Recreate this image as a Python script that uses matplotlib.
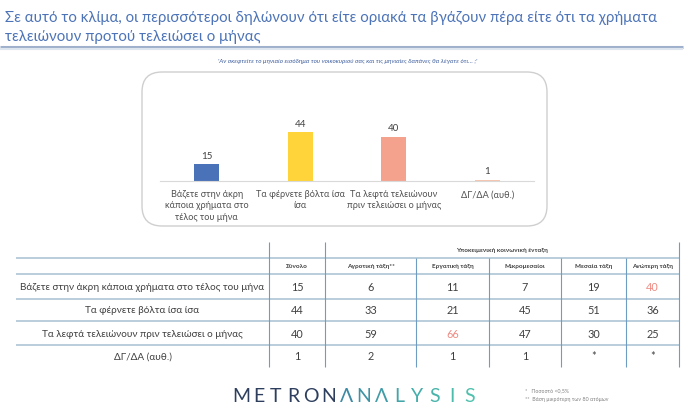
import matplotlib
matplotlib.use("Agg")
import matplotlib.pyplot as plt
from matplotlib.patches import FancyBboxPatch

plt.rcParams['font.family'] = ['Lato', 'DejaVu Sans']

# ---------------- data ----------------
title_lines = ["Σε αυτό το κλίμα, οι περισσότεροι δηλώνουν ότι είτε οριακά τα βγάζουν πέρα είτε ότι τα χρήματα",
               "τελειώνουν προτού τελειώσει ο μήνας"]
question = "'Αν σκεφτείτε το μηνιαίο εισόδημα του νοικοκυριού σας και τις μηνιαίες δαπάνες θα λέγατε ότι… ;'"

bar_categories = ["Βάζετε στην άκρη\nκάποια χρήματα στο\nτέλος του μήνα",
                  "Τα φέρνετε βόλτα ίσα\nίσα",
                  "Τα λεφτά τελειώνουν\nπριν τελειώσει ο μήνας",
                  "ΔΓ/ΔΑ (αυθ.)"]
bar_values = [15, 44, 40, 1]
bar_colors = ["#4a72b8", "#ffd43a", "#f4a28e", "#f6c4ae"]

group_header = "Υποκειμενική κοινωνική ένταξη"
table_columns = ["Σύνολο", "Αγροτική τάξη**", "Εργατική τάξη", "Μικρομεσαίοι", "Μεσαία τάξη", "Ανώτερη τάξη"]
table_rows = ["Βάζετε στην άκρη κάποια χρήματα στο τέλος του μήνα",
              "Τα φέρνετε βόλτα ίσα ίσα",
              "Τα λεφτά τελειώνουν πριν τελειώσει ο μήνας",
              "ΔΓ/ΔΑ (αυθ.)"]
col_synolo = ["15", "44", "40", "1"]
col_agrotiki = ["6", "33", "59", "2"]
col_ergatiki = ["11", "21", "66", "1"]
col_mikromesaioi = ["7", "45", "47", "1"]
col_mesaia = ["19", "51", "30", "*"]
col_anoteri = ["40", "36", "25", "*"]
highlighted = [(0, 5), (2, 2)]  # (row, column) shown in red

footnotes = ["*   Ποσοστό <0,5%", "**  Βάση μικρότερη των 80 ατόμων"]
logo_dark = "METRON"
logo_light = "ΛNΛLYSIS"

# ---------------- figure ----------------
W, H = 696, 414
fig = plt.figure(figsize=(W / 100, H / 100), dpi=100)
fig.patch.set_facecolor("white")

ov = fig.add_axes([0, 0, 1, 1])
ov.set_xlim(0, W)
ov.set_ylim(H, 0)
ov.axis("off")
ov.patch.set_alpha(0)

# title
title_color = "#4d74b8"
ov.text(5, 18, title_lines[0], fontsize=10.8, color=title_color, va="center", ha="left")
ov.text(5, 37, title_lines[1], fontsize=10.8, color=title_color, va="center", ha="left")
ov.plot([0, 683], [48, 48], color="#9fb0cc", lw=2.2, solid_capstyle="butt")
ov.plot([0, 683], [50.3, 50.3], color="#dfe5ef", lw=1.5, solid_capstyle="butt")

# question
ov.text(348, 62, question, fontsize=4.6, style="italic", color="#3d5d9e", ha="center", va="center")

# rounded box
box = FancyBboxPatch((142, 73), 405, 154, boxstyle="round,pad=0,rounding_size=20",
                     fc="none", ec="#cfcfcf", lw=1.0, transform=ov.transData)
ov.add_patch(box)

# bar chart
px_per_unit = 1.11
ax_h = 60
ax = fig.add_axes([160 / W, (H - 182) / H, 374 / W, ax_h / H])
ax.patch.set_alpha(0)
bars = ax.bar(range(len(bar_values)), bar_values, width=0.27, color=bar_colors)
ax.set_xlim(-0.5, len(bar_values) - 0.5)
ax.set_ylim(0, ax_h / px_per_unit)
ax.bar_label(bars, labels=[str(v) for v in bar_values], padding=3.2, fontsize=7.0, color="#404040")
ax.set_xticks(range(len(bar_values)))
ax.set_xticklabels(bar_categories, fontsize=6.6, color="#505050", linespacing=1.3)
ax.tick_params(axis="x", length=0, pad=6)
ax.set_yticks([])
for s in ["top", "left", "right"]:
    ax.spines[s].set_visible(False)
ax.spines["bottom"].set_color("#d9d9d9")
ax.spines["bottom"].set_linewidth(0.8)

# table
table_cols = [col_synolo, col_agrotiki, col_ergatiki, col_mikromesaioi, col_mesaia, col_anoteri]
x_edges = [16, 269, 325, 416, 489, 561, 626, 679]
h_lines = [259, 275, 300, 322, 346]
row_centers = [288, 311, 335, 357]
table_bottom = 368
hcol = "#b9cddc"
vcol = "#6e9cc2"
for y in h_lines:
    ov.plot([x_edges[0], x_edges[-1]], [y, y], color=hcol, lw=1.4, solid_capstyle="butt")
for i, x in enumerate(x_edges[1:]):
    top = 243 if x in (269, 325, 679) else 259
    ov.plot([x, x], [top, table_bottom], color=vcol, lw=0.8, solid_capstyle="butt")

ov.text((x_edges[2] + x_edges[-1]) / 2, 251, group_header, fontsize=4.6, fontweight="bold",
        color="#404040", ha="center", va="center")
for j, c in enumerate(table_columns):
    cx = (x_edges[j + 1] + x_edges[j + 2]) / 2
    ov.text(cx, 267, c, fontsize=4.6, fontweight="bold", color="#404040", ha="center", va="center")
for i, r in enumerate(table_rows):
    ov.text((x_edges[0] + x_edges[1]) / 2, row_centers[i], r, fontsize=7.2, color="#404040",
            ha="center", va="center")
    for j, col in enumerate(table_cols):
        cx = (x_edges[j + 1] + x_edges[j + 2]) / 2
        color = "#ee8a82" if (i, j) in highlighted else "#404040"
        ov.text(cx, row_centers[i], col[i], fontsize=7.8, color=color, ha="center", va="center")

# logo
logo = logo_dark + logo_light
light_cols = ["#3c8aa3", "#3e93a5", "#409ca7", "#42a5a8", "#45adaa", "#48b4ab", "#4bbbac", "#4fc1ad"]
step = 17.6
for k, ch in enumerate(logo):
    cx = 232 + step / 2 + k * step
    col = "#2e3f5e" if k < len(logo_dark) else light_cols[k - len(logo_dark)]
    ov.text(cx, 397, ch, fontsize=14, color=col, ha="center", va="center")

# footnotes
ov.text(525, 391, footnotes[0], fontsize=3.8, color="#808080", ha="left", va="center")
ov.text(525, 400, footnotes[1], fontsize=3.8, color="#808080", ha="left", va="center")

fig.savefig("out.png", dpi=100, facecolor="white")
